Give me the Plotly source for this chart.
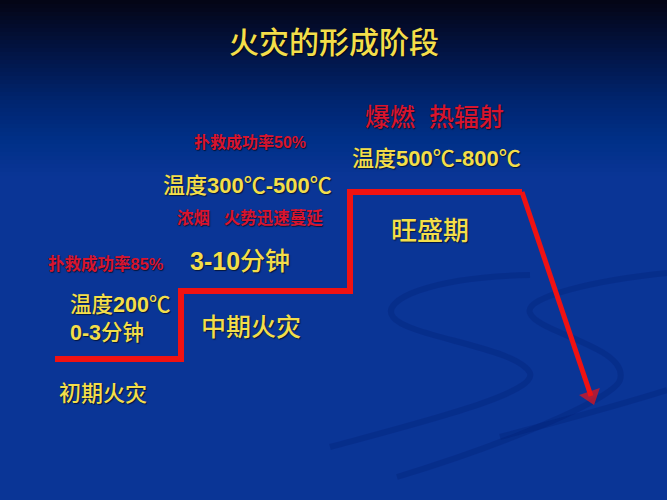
import plotly.graph_objects as go

# 阶梯线（火灾发展曲线），坐标按画面单位
step_x = [55, 181, 181, 350, 350, 522]
step_y = [359, 359, 291, 291, 192, 192]
# 衰减段箭头
arrow_x = [522, 591]
arrow_y = [192, 396]

title_text = "火灾的形成阶段"
stage_names = ["初期火灾", "中期火灾", "旺盛期"]
temps = ["温度<b>200</b>℃", "温度<b>300</b>℃<b>-500</b>℃", "温度<b>500</b>℃<b>-800</b>℃"]
durations = ["<b>0-3</b>分钟", "<b>3-10</b>分钟"]
rates = ["<b>扑救成功率85%</b>", "<b>扑救成功率50%</b>"]
notes = ["<b>浓烟\u00a0\u00a0\u00a0火势迅速蔓延</b>", "爆燃\u00a0\u00a0热辐射"]

YELLOW = "#F3DE4A"
RED_TXT = "#D8142E"
RED_LINE = "#F01212"
FONT = "Liberation Sans, Noto Sans CJK SC, sans-serif"
SHADOW = "1px 1px 1px rgba(0,0,0,0.6)"

fig = go.Figure()

fig.add_trace(go.Scatter(x=step_x, y=step_y, mode="lines",
                         line=dict(color=RED_LINE, width=6), hoverinfo="skip"))
fig.add_trace(go.Scatter(x=arrow_x, y=arrow_y, mode="lines+markers",
                         line=dict(color=RED_LINE, width=5),
                         marker=dict(symbol="triangle-up", size=[0, 19], color=RED_LINE,
                                     angleref="previous", line=dict(width=0)),
                         hoverinfo="skip"))

# 背景渐变（顶部黑到深蓝）
stops = [(0, (4, 5, 22)), (50, (2, 20, 68)), (100, (0, 37, 112)),
         (140, (0, 48, 136)), (175, (10, 53, 150))]
shapes = []
for y0 in range(0, 176, 4):
    for (a, ca), (b, cb) in zip(stops[:-1], stops[1:]):
        if a <= y0 <= b:
            t = (y0 - a) / (b - a)
            c = tuple(round(ca[i] + (cb[i] - ca[i]) * t) for i in range(3))
            break
    shapes.append(dict(type="rect", xref="x", yref="y", x0=0, x1=667, y0=y0, y1=y0 + 4,
                       fillcolor="rgb(%d,%d,%d)" % c, line=dict(width=0), layer="below"))

# 右下角装饰弧线
swoosh = "rgba(0,30,115,0.3)"
for p in ["M 530,275 C 430,277 380,300 393,317 C 407,337 517,347 530,373 C 537,393 430,420 330,447",
          "M 667,273 C 597,280 523,297 530,313 C 537,333 630,347 620,380 C 613,400 497,447 397,477",
          "M 667,390 C 613,407 563,420 500,437"]:
    shapes.append(dict(type="path", path=p, xref="x", yref="y",
                       line=dict(color=swoosh, width=6), layer="below"))


def txt(x, y, s, size, color, anchor="center", weight=500):
    fig.add_annotation(x=x, y=y, text=s, showarrow=False, xanchor=anchor, yanchor="middle",
                       font=dict(family=FONT, size=size, color=color, shadow=SHADOW,
                                 weight=weight))


txt(334, 42, title_text, 30, YELLOW)
txt(434, 117, notes[1], 25, RED_TXT)
txt(250, 142, rates[1], 16, RED_TXT, weight=400)
txt(436, 158, temps[2], 22, YELLOW)
txt(247, 185, temps[1], 22, YELLOW)
txt(250, 217, notes[0], 16.5, RED_TXT, weight=400)
txt(430, 231, stage_names[2], 26, YELLOW)
txt(106, 263, rates[0], 16.5, RED_TXT, weight=400)
txt(240, 261, durations[1], 25, YELLOW)
txt(68, 305, temps[0], 21.5, YELLOW, "left")
txt(68, 333, durations[0], 21.5, YELLOW, "left")
txt(251, 327, stage_names[1], 25, YELLOW)
txt(57, 393, stage_names[0], 22, YELLOW, "left")

fig.update_layout(
    width=667, height=500,
    margin=dict(l=0, r=0, t=0, b=0),
    paper_bgcolor="rgb(10,53,150)", plot_bgcolor="rgb(10,53,150)",
    showlegend=False, shapes=shapes,
    xaxis=dict(range=[0, 667], visible=False, fixedrange=True),
    yaxis=dict(range=[500, 0], visible=False, fixedrange=True),
)
fig.write_html("out.html", config={"displayModeBar": False},
               post_script="document.body.style.margin='0';")
